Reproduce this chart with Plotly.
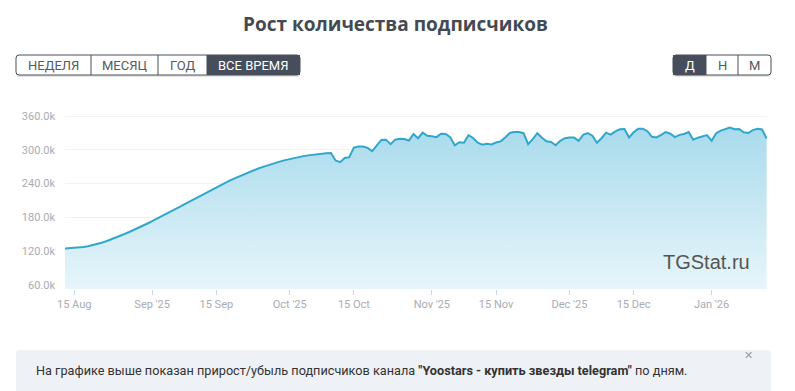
import pandas as pd
import plotly.graph_objects as go

# ---------------- data ----------------
start_date = "2025-08-13"
subscribers_k = [
    125.0, 125.3, 125.8, 126.5, 127.5, 128.8, 130.5, 132.6, 135.0, 137.7,
    140.6, 143.8, 147.2, 150.6, 154.1, 157.6, 161.4, 165.3, 169.2, 173.2,
    177.2, 181.3, 185.5, 189.8, 194.2, 198.6, 203.0, 207.4, 211.8, 216.2,
    220.6, 225.0, 229.3, 233.5, 237.6, 241.6, 245.6, 249.4, 253.1, 256.7,
    260.1, 263.3, 266.4, 269.3, 272.1, 274.7, 277.2, 279.5, 281.7, 283.7,
    285.6, 287.3, 288.8, 290.1, 291.2, 292.2, 293.0, 293.8, 294.2, 281.0,
    278.0, 285.5, 287.0, 304.0, 306.0, 306.0, 303.5, 297.5, 308.0, 317.5,
    318.0, 310.0, 318.0, 319.5, 319.0, 316.5, 328.0, 320.5, 330.5, 325.0,
    324.0, 322.5, 328.5, 328.0, 322.5, 308.0, 313.5, 312.5, 326.0, 321.0,
    312.5, 309.0, 310.5, 309.5, 313.0, 315.0, 322.0, 330.0, 331.6, 331.6,
    329.5, 310.0, 319.0, 329.5, 321.5, 315.0, 314.0, 308.0, 316.0, 320.5,
    322.0, 321.7, 316.0, 326.5, 329.5, 325.0, 312.5, 320.5, 330.5, 327.0,
    332.8, 336.5, 337.0, 322.0, 331.0, 337.4, 337.5, 333.0, 323.0, 322.0,
    326.5, 331.5, 328.5, 322.5, 326.5, 328.0, 331.5, 318.0, 321.5, 323.5,
    326.0, 316.0, 329.5, 334.0, 337.0, 339.5, 336.5, 337.0, 331.0, 329.8,
    335.0, 337.4, 336.0, 320.0,
]
dates = pd.date_range(start_date, periods=len(subscribers_k), freq="D")
subscribers = [v * 1000 for v in subscribers_k]

x_tick_dates = ["2025-08-15", "2025-09-01", "2025-09-15", "2025-10-01", "2025-10-15",
                "2025-11-01", "2025-11-15", "2025-12-01", "2025-12-15", "2026-01-01"]
x_tick_labels = ["15 Aug", "Sep '25", "15 Sep", "Oct '25", "15 Oct",
                 "Nov '25", "15 Nov", "Dec '25", "15 Dec", "Jan '26"]
y_tick_vals = [60000, 120000, 180000, 240000, 300000, 360000]
y_tick_labels = ["60.0k", "120.0k", "180.0k", "240.0k", "300.0k", "360.0k"]

period_buttons = ["НЕДЕЛЯ", "МЕСЯЦ", "ГОД", "ВСЕ ВРЕМЯ"]
scale_buttons = ["Д", "Н", "М"]

title_text = "Рост количества подписчиков"
info_text = ('На графике выше показан прирост/убыль подписчиков канала '
             '<b>"Yoostars - купить звезды telegram"</b> по дням.')

# ---------------- geometry helpers (page pixels; page body has 8px margin) ----------------
OFF = 8
W, H = 795 - OFF, 391 - OFF
PL, PR, PT, PB = 65, 767, 100, 289   # plot area in page pixels
Y0, Y1 = 52900, 388400


def px(x):
    return (x - PL) / (PR - PL)


def py(y):
    return (PB - y) / (PB - PT)


def rrect(x0, y0, x1, y1, r):
    a, b, c, d = px(x0), px(x1), py(y0), py(y1)
    rx = r / (PR - PL)
    ry = r / (PB - PT)
    return (f"M {a+rx},{c} L {b-rx},{c} Q {b},{c} {b},{c-ry} L {b},{d+ry} "
            f"Q {b},{d} {b-rx},{d} L {a+rx},{d} Q {a},{d} {a},{d+ry} "
            f"L {a},{c-ry} Q {a},{c} {a+rx},{c} Z")


fig = go.Figure()
fig.add_trace(go.Scatter(
    x=dates, y=subscribers, mode="lines",
    line=dict(color="#2fa7cc", width=2),
    fill="tozeroy",
    fillgradient=dict(type="vertical", start=Y0, stop=Y1,
                      colorscale=[[0, "rgb(231,245,251)"], [1, "rgb(158,214,233)"]]),
    hoverinfo="skip",
))

shapes = []
annotations = []

# title
annotations.append(dict(x=px(395), y=py(24), xref="paper", yref="paper",
                        text=f"<b>{title_text}</b>", showarrow=False,
                        font=dict(family="Open Sans", size=19, color="#454a52"),
                        xanchor="center", yanchor="middle"))


def button_group(x_edges, labels, dark_idx, ytop, ybot):
    shapes.append(dict(type="path", path=rrect(x_edges[0], ytop + 2, x_edges[-1], ybot + 2, 3),
                       xref="paper", yref="paper", fillcolor="rgba(0,0,0,0.10)",
                       line=dict(width=0), layer="above"))
    shapes.append(dict(type="path", path=rrect(x_edges[0], ytop, x_edges[-1], ybot, 3),
                       xref="paper", yref="paper", fillcolor="white",
                       line=dict(color="#4a4f58", width=1), layer="above"))
    for i, lab in enumerate(labels):
        x0, x1 = x_edges[i], x_edges[i + 1]
        if i == dark_idx:
            shapes.append(dict(type="rect", x0=px(x0), x1=px(x1), y0=py(ytop), y1=py(ybot),
                               xref="paper", yref="paper", fillcolor="#474e5b",
                               line=dict(width=0), layer="above"))
        if 0 < i:
            shapes.append(dict(type="line", x0=px(x0), x1=px(x0), y0=py(ytop), y1=py(ybot),
                               xref="paper", yref="paper",
                               line=dict(color="#4a4f58", width=1), layer="above"))
        annotations.append(dict(x=px((x0 + x1) / 2), y=py((ytop + ybot) / 2 + 0.5),
                                xref="paper", yref="paper", text=lab, showarrow=False,
                                font=dict(family="Roboto", size=13,
                                          color="white" if i == dark_idx else "#555a60"),
                                xanchor="center", yanchor="middle"))


button_group([16, 91, 158, 207, 300], period_buttons, 3, 55, 75)
button_group([673, 706, 738, 771], scale_buttons, 0, 55, 75)

# watermark
annotations.append(dict(x=px(752), y=py(262), xref="paper", yref="paper",
                        text="TGStat.ru", showarrow=False,
                        font=dict(family="Liberation Sans", size=20, color="#555555"),
                        xanchor="right", yanchor="middle"))

# right card border
shapes.append(dict(type="line", x0=px(791), x1=px(791), y0=py(8), y1=py(335),
                   xref="paper", yref="paper", line=dict(color="#e6e6e6", width=1)))

# info box
shapes.append(dict(type="path", path=rrect(16, 350, 771, 400, 4), xref="paper", yref="paper",
                   fillcolor="#eef1f5", line=dict(width=0)))
annotations.append(dict(x=px(34), y=py(370.5), xref="paper", yref="paper",
                        text=info_text, showarrow=False,
                        font=dict(family="Roboto", size=12.7, color="#333333"),
                        xanchor="left", yanchor="middle"))
annotations.append(dict(x=px(748), y=py(355), xref="paper", yref="paper",
                        text="✕", showarrow=False,
                        font=dict(family="DejaVu Sans", size=11, color="#9a9ea6"),
                        xanchor="center", yanchor="middle"))

fig.update_layout(
    width=W, height=H, autosize=False,
    margin=dict(l=PL - OFF, r=795 - PR, t=PT - OFF, b=391 - PB, pad=0),
    paper_bgcolor="white", plot_bgcolor="white",
    showlegend=False,
    shapes=shapes, annotations=annotations,
    xaxis=dict(range=["2025-08-13", "2026-01-13 02:00"], tickmode="array",
               tickvals=x_tick_dates, ticktext=x_tick_labels,
               ticks="outside", ticklen=5, tickcolor="#ccd6eb", tickwidth=1,
               showgrid=False, zeroline=False, showline=False,
               tickfont=dict(family="Roboto", size=11, color="#a9abb3")),
    yaxis=dict(range=[Y0, Y1], tickmode="array", tickvals=y_tick_vals, ticktext=y_tick_labels,
               showgrid=True, gridcolor="#f2f2f2", gridwidth=1, zeroline=False,
               showline=False, ticks="", ticklabelstandoff=9,
               tickfont=dict(family="Roboto", size=11, color="#a9abb3")),
)

fig.write_html("out.html")
